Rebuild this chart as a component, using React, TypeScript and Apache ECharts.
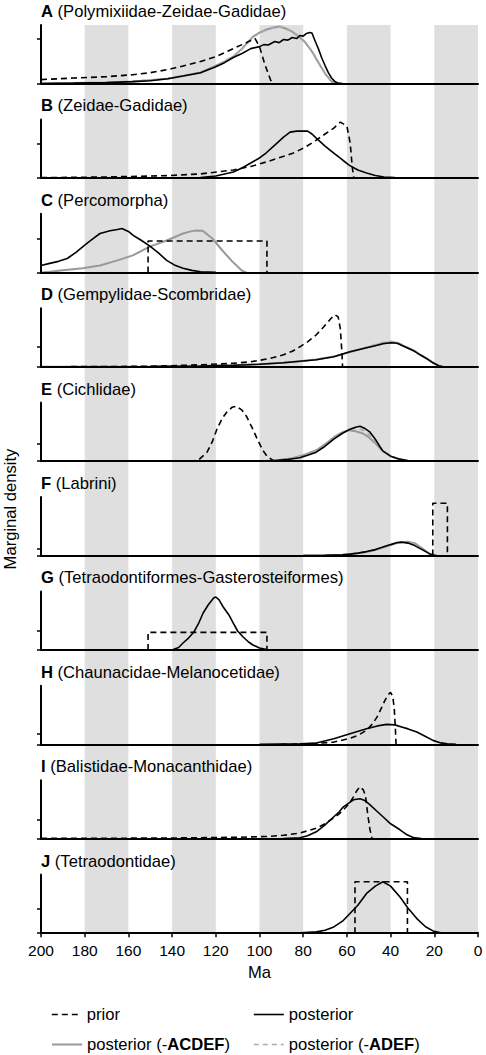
import React, { useEffect, useRef } from "react";
import * as echarts from "echarts";

type P = [number, number];

const FONT = "'Liberation Sans', Arial, Helvetica, sans-serif";

const BANDS: P[] = [[180, 160], [140, 120], [100, 80], [60, 40], [20, 0]];
const X_MIN = 0;
const X_MAX = 200;
const X_INTERVAL = 20;
const Y_TICK = 0.02;

const LETTERS = ["A", "B", "C", "D", "E", "F", "G", "H", "I", "J"];
const CLADES = [
  "Polymixiidae-Zeidae-Gadidae",
  "Zeidae-Gadidae",
  "Percomorpha",
  "Gempylidae-Scombridae",
  "Cichlidae",
  "Labrini",
  "Tetraodontiformes-Gasterosteiformes",
  "Chaunacidae-Melanocetidae",
  "Balistidae-Monacanthidae",
  "Tetraodontidae",
];
const Y_MAX = [0.0263, 0.0345, 0.0345, 0.0586, 0.0689, 0.168, 0.0617, 0.1065, 0.0617, 0.0488];

const SERIES_NAMES = ["prior", "posterior", "posterior (-ACDEF)", "posterior (-ADEF)"];

// Panel A
const A_PRIOR: P[] = [[200,0.0018],[185,0.0025],[170,0.0031],[158,0.004],[150,0.0049],[142,0.0063],[135,0.0079],[127,0.0099],[120,0.0121],[112,0.0157],[108,0.0175],[104,0.0193],[102,0.0202],[100,0.0166],[97.5,0.0085],[95,0.0018],[94,0]];
const A_POST: P[] = [[200,0],[185,0.0002],[170,0.00045],[158,0.0009],[150,0.0013],[142,0.0022],[135,0.0034],[127,0.0049],[120,0.0076],[116,0.0094],[112,0.0117],[108,0.0135],[104,0.0157],[100,0.0166],[98,0.0175],[96,0.0173],[93,0.0189],[91,0.0184],[89,0.0198],[87,0.0195],[85,0.0207],[83,0.0202],[81.5,0.0216],[80,0.0213],[78.5,0.0225],[77,0.0229],[76,0.0227],[74.5,0.019],[73,0.0155],[71.5,0.0115],[70,0.0081],[68.5,0.0049],[67,0.0025],[65.5,0.0009],[64,0.0002],[62,0]];
const A_ACDEF: P[] = [[200,0],[170,0.00045],[158,0.0009],[142,0.0022],[127,0.0049],[120,0.0081],[116,0.0099],[112,0.0121],[108,0.0157],[103,0.0211],[100,0.0229],[97,0.0242],[94,0.0251],[91,0.0256],[88,0.0247],[85,0.0233],[82,0.0211],[79,0.0184],[76,0.0144],[73,0.0094],[70,0.0045],[67,0.0009],[65,0]];
const A_ADEF: P[] = [[200,0],[170,0.0005],[158,0.001],[142,0.0023],[127,0.0051],[120,0.0079],[112,0.0123],[108,0.0155],[103,0.0208],[100,0.0226],[97,0.024],[94,0.025],[91,0.0254],[88,0.0248],[85,0.0235],[82,0.0213],[79,0.0187],[76,0.0147],[73,0.0097],[70,0.0047],[67,0.001],[65,0]];

// Panel B
const B_PRIOR: P[] = [[200,0.0002],[170,0.0006],[142,0.0014],[127,0.0024],[112,0.0047],[104,0.0068],[97,0.0094],[90,0.0123],[84.5,0.0147],[79,0.0182],[74,0.0223],[70,0.0259],[66,0.0294],[63,0.0329],[60,0.0306],[58.5,0.0206],[57.5,0.0059],[56.8,0]];
const B_POST: P[] = [[200,0],[150,0.0001],[127,0.0003],[120,0.0012],[112,0.0035],[108,0.0059],[104,0.0088],[100,0.0118],[97,0.0147],[93,0.0194],[89,0.0241],[86,0.027],[83,0.0276],[80,0.0276],[78,0.0276],[76,0.0259],[74,0.0235],[70,0.0188],[66,0.0147],[62,0.0106],[59,0.0076],[55,0.0047],[51,0.0029],[47,0.0015],[43,0.0006],[38,0.0002],[35,0]];

// Panel C
const C_PRIOR: P[] = [[151,0],[151,0.0185],[96.6,0.0185],[96.6,0]];
const C_POST: P[] = [[200,0.0041],[196,0.0053],[192,0.0065],[188,0.0082],[184,0.0118],[179,0.0171],[176,0.02],[173,0.0229],[168.4,0.0245],[165,0.0253],[163,0.0259],[160,0.0241],[157.8,0.0218],[154,0.0188],[150,0.0153],[146,0.0112],[142.5,0.0071],[139,0.0044],[135,0.0024],[131,0.0012],[127,0.0004],[120,0]];
const C_ACDEF: P[] = [[200,0],[196,0.0004],[190,0.0012],[181,0.0024],[173,0.0041],[165,0.0071],[158,0.01],[150,0.0153],[142.5,0.0188],[135,0.0229],[131,0.0243],[129,0.0247],[126,0.0245],[121.6,0.02],[117,0.0129],[112.5,0.0065],[108,0.001],[106,0]];

// Panel D
const D_PRIOR: P[] = [[200,0],[150,0.0005],[127,0.002],[112,0.0035],[104,0.005],[96,0.008],[89,0.012],[85,0.0155],[81.5,0.02],[78,0.025],[74,0.032],[71,0.039],[69,0.044],[67,0.049],[65.4,0.052],[64,0.05],[63,0.038],[62.3,0.015],[62,0]];
const D_POST: P[] = [[200,0],[150,0.0003],[127,0.0008],[112,0.0015],[100,0.0025],[89,0.004],[81.5,0.0055],[74,0.007],[66,0.01],[58.6,0.015],[51,0.019],[47,0.021],[43.5,0.023],[40,0.024],[37,0.0235],[32.5,0.019],[29,0.0155],[26.5,0.012],[23,0.0075],[20.6,0.004],[18,0.001],[16,0]];
const D_ACDEF: P[] = [[200,0],[150,0.0003],[127,0.0008],[112,0.0016],[100,0.0026],[89,0.0041],[81.5,0.0056],[74,0.0072],[66,0.0102],[58.6,0.0148],[51,0.0192],[47,0.0215],[43.5,0.0235],[40,0.0245],[37,0.024],[32.5,0.0195],[29,0.0158],[26.5,0.0122],[23,0.0077],[20.6,0.0042],[18,0.0012],[16,0]];
const D_ADEF: P[] = [[200,0],[150,0.0003],[127,0.0008],[112,0.0016],[100,0.0026],[89,0.0042],[81.5,0.0057],[74,0.0073],[66,0.0104],[58.6,0.015],[51,0.0196],[47,0.0222],[43.5,0.0245],[40,0.0255],[37,0.0246],[32.5,0.0198],[29,0.016],[26.5,0.0124],[23,0.0078],[20.6,0.0043],[18,0.0012],[16,0]];

// Panel E
const E_PRIOR: P[] = [[132,0],[128,0.0012],[124,0.0106],[121.5,0.0235],[119.5,0.0376],[117,0.0506],[115,0.0576],[112.5,0.0635],[110.5,0.0647],[108,0.06],[106,0.0529],[103.5,0.04],[101,0.0259],[98.5,0.0129],[96.6,0.0059],[94,0.0012],[92,0]];
const E_POST: P[] = [[100,0],[94,0.0006],[88,0.0018],[81.5,0.0041],[78,0.0071],[74,0.0106],[70,0.0176],[66,0.0259],[62,0.0329],[58.6,0.0376],[56,0.04],[54,0.0412],[52,0.0388],[49.4,0.0341],[47,0.0259],[45,0.0176],[43.5,0.0118],[40,0.0059],[35.7,0.0024],[32,0.0006],[28,0]];
const E_ACDEF: P[] = [[100,0],[92,0.0012],[85,0.0035],[80,0.0071],[74,0.0129],[70,0.02],[66,0.0282],[62,0.0341],[59,0.0365],[56,0.0353],[53,0.0329],[50,0.0282],[47,0.0212],[44,0.0129],[40,0.0059],[36,0.0018],[32,0.0004],[28,0]];
const E_ADEF: P[] = [[100,0],[92,0.001],[85,0.003],[80,0.0065],[74,0.0118],[70,0.019],[66,0.027],[62,0.0335],[59,0.0372],[56,0.0385],[53,0.037],[50,0.0318],[47,0.0235],[44,0.014],[40,0.0062],[36,0.002],[32,0.0005],[28,0]];

// Panel F
const F_PRIOR: P[] = [[20.7,0],[20.7,0.15],[14,0.15],[14,0]];
const F_POST: P[] = [[80,0],[70,0.0009],[62,0.0023],[58.6,0.0043],[55,0.0072],[51,0.0115],[47,0.0172],[43.5,0.0244],[40,0.0315],[37,0.0373],[35,0.0387],[32,0.0358],[29,0.0287],[26,0.0186],[23.5,0.01],[22,0.0043],[20.5,0.0014],[19,0]];
const F_ACDEF: P[] = [[80,0],[70,0.0009],[62,0.0023],[58.6,0.004],[55,0.0066],[51,0.0106],[47,0.016],[43.5,0.0229],[40,0.03],[37,0.0358],[35,0.0385],[32,0.04],[29,0.0358],[26,0.023],[23.5,0.0115],[21.5,0.0029],[19.5,0]];
const F_ADEF: P[] = [[80,0],[70,0.0009],[62,0.0024],[58.6,0.0042],[55,0.007],[51,0.011],[47,0.0166],[43.5,0.0237],[40,0.0308],[37,0.0366],[35,0.039],[32,0.039],[29,0.0335],[26,0.021],[23.5,0.0108],[21.5,0.003],[19.5,0]];

// Panel G
const G_PRIOR: P[] = [[151,0],[151,0.0186],[96.6,0.0186],[96.6,0]];
const G_POST: P[] = [[142,0],[139.5,0.0005],[137,0.0026],[135,0.0074],[132.5,0.0126],[130,0.019],[128,0.0274],[125.8,0.039],[123.5,0.0474],[121,0.0548],[120,0.0558],[118.5,0.0527],[116.6,0.0453],[114,0.0369],[112,0.0284],[110,0.02],[107.5,0.0137],[105,0.0084],[103,0.0053],[100,0.0021],[96.6,0.0005],[94,0]];

// Panel H
const H_PRIOR: P[] = [[90,0],[81.5,0.0005],[74,0.0018],[66,0.0042],[58.6,0.0109],[55,0.0164],[51,0.0255],[48.5,0.0364],[46.3,0.0491],[44.5,0.0636],[42.6,0.08],[41,0.0909],[40,0.0945],[39,0.0873],[38.3,0.0636],[37.8,0.0273],[37.5,0]];
const H_POST: P[] = [[100,0],[81.5,0.0009],[74,0.0024],[66,0.0104],[58.6,0.0195],[51,0.0285],[46,0.0336],[41.8,0.0364],[38,0.0355],[35.7,0.0327],[32,0.0282],[28,0.0224],[24,0.0145],[20.6,0.0073],[17,0.0027],[14,0.0009],[10,0]];

// Panel I
const I_PRIOR: P[] = [[200,0.0005],[150,0.0007],[127,0.0011],[110,0.0016],[97,0.0024],[89,0.0037],[81.5,0.006],[78,0.0084],[74,0.0113],[70,0.0158],[66,0.0221],[63.5,0.0263],[61.6,0.0305],[59,0.0369],[57,0.0442],[55.5,0.0505],[54,0.0548],[52.5,0.0516],[51.5,0.0453],[50.5,0.0263],[49.5,0.0105],[48.5,0]];
const I_POST: P[] = [[100,0],[89,0.0003],[81.5,0.0011],[78,0.0032],[74,0.0074],[70,0.0147],[66,0.0232],[63.5,0.0284],[61.6,0.0337],[59,0.0379],[57,0.0411],[54,0.0421],[51.5,0.04],[49.4,0.0358],[46.5,0.0295],[43.5,0.0232],[40,0.0158],[35.7,0.0095],[32.5,0.0042],[29.6,0.0014],[26,0.0003],[22,0]];

// Panel J
const J_PRIOR: P[] = [[56.3,0],[56.3,0.0428],[32.3,0.0428],[32.3,0]];
const J_POST: P[] = [[90,0],[81.5,0.0003],[74,0.0011],[70,0.0025],[66,0.0052],[62,0.01],[58.6,0.0164],[55,0.0233],[51,0.0331],[47,0.0392],[43.5,0.0428],[40,0.0392],[35.7,0.0302],[32,0.0208],[28,0.0122],[24,0.0054],[20.6,0.0019],[17,0.0004],[14,0]];

const PANELS: { prior: P[]; post: P[]; acdef?: P[]; adef?: P[] }[] = [
  { prior: A_PRIOR, post: A_POST, acdef: A_ACDEF, adef: A_ADEF },
  { prior: B_PRIOR, post: B_POST },
  { prior: C_PRIOR, post: C_POST, acdef: C_ACDEF },
  { prior: D_PRIOR, post: D_POST, acdef: D_ACDEF, adef: D_ADEF },
  { prior: E_PRIOR, post: E_POST, acdef: E_ACDEF, adef: E_ADEF },
  { prior: F_PRIOR, post: F_POST, acdef: F_ACDEF, adef: F_ADEF },
  { prior: G_PRIOR, post: G_POST },
  { prior: H_PRIOR, post: H_POST },
  { prior: I_PRIOR, post: I_POST },
  { prior: J_PRIOR, post: J_POST },
];

// layout
const LEFT = 41;
const WIDTH = 437;
const TOP0 = 25;
const STEP = 94.4;
const PH = 58.6;
const TITLE_FS = 16.6;
const TICK_FS = 15.5;

const STYLES: Record<string, any> = {
  prior: { color: "#000000", width: 1.6, type: [6, 4] },
  posterior: { color: "#000000", width: 1.6, type: "solid" },
  "posterior (-ACDEF)": { color: "#999999", width: 2, type: "solid" },
  "posterior (-ADEF)": { color: "#aaaaaa", width: 1.6, type: [5, 4] },
};

function lineSeries(name: string, data: P[], k: number, z: number) {
  const st = STYLES[name];
  return {
    type: "line",
    name,
    data,
    xAxisIndex: k,
    yAxisIndex: k,
    symbol: "none",
    showSymbol: false,
    silent: true,
    z,
    itemStyle: { color: st.color },
    lineStyle: { color: st.color, width: st.width, type: st.type },
  };
}

export default function App() {
  const ref = useRef<HTMLDivElement>(null);

  useEffect(() => {
    if (!ref.current) return;
    const chart = echarts.init(ref.current, null, { renderer: "svg" });
    const n = PANELS.length;
    const grids: any[] = [];
    const xAxes: any[] = [];
    const yAxes: any[] = [];
    const series: any[] = [];

    PANELS.forEach((p, k) => {
      const last = k === n - 1;
      grids.push({ left: LEFT, width: WIDTH, top: TOP0 + STEP * k, height: PH, containLabel: false });
      xAxes.push({
        type: "value",
        gridIndex: k,
        position: "bottom",
        z: 10,
        min: X_MIN,
        max: X_MAX,
        interval: X_INTERVAL,
        inverse: true,
        axisLine: { show: true, onZero: false, lineStyle: { color: "#000", width: 2 } },
        axisTick: { show: last, length: 4, lineStyle: { color: "#000", width: 1.5 } },
        axisLabel: { show: last, margin: 9, fontSize: TICK_FS, color: "#000", fontFamily: FONT },
        splitLine: { show: false },
        name: last ? "Ma" : "",
        nameLocation: "middle",
        nameGap: 31,
        nameTextStyle: { fontSize: TITLE_FS, color: "#000", fontFamily: FONT },
      });
      yAxes.push({
        type: "value",
        gridIndex: k,
        position: "left",
        z: 10,
        min: 0,
        max: Y_MAX[k],
        axisLine: { show: true, onZero: false, lineStyle: { color: "#000", width: 2 } },
        axisTick: {
          show: true,
          length: 4,
          customValues: [0, Y_TICK],
          lineStyle: { color: "#000", width: 1.5 },
        },
        axisLabel: { show: false },
        splitLine: { show: false },
      });
      if (p.acdef) series.push(lineSeries("posterior (-ACDEF)", p.acdef, k, 3));
      if (p.adef) series.push(lineSeries("posterior (-ADEF)", p.adef, k, 4));
      series.push(lineSeries("posterior", p.post, k, 5));
      series.push(lineSeries("prior", p.prior, k, 6));
    });

    // background bands grid
    const bg = n;
    grids.push({ left: LEFT, width: WIDTH, top: TOP0, height: STEP * (n - 1) + PH });
    xAxes.push({ type: "value", gridIndex: bg, min: X_MIN, max: X_MAX, inverse: true, show: false });
    yAxes.push({ type: "value", gridIndex: bg, min: 0, max: 1, show: false });
    series.push({
      type: "line",
      name: "bands",
      xAxisIndex: bg,
      yAxisIndex: bg,
      data: [],
      symbol: "none",
      silent: true,
      z: -5,
      markArea: {
        silent: true,
        z: -5,
        itemStyle: { color: "#dfdfdf" },
        data: BANDS.map(([a, b]) => [{ xAxis: a }, { xAxis: b }]),
      },
    });

    const titles = PANELS.map((_, k) => ({
      text: `{b|${LETTERS[k]}} (${CLADES[k]})`,
      left: LEFT,
      top: 12 + STEP * k - 9,
      padding: 0,
      textStyle: {
        fontSize: TITLE_FS,
        fontWeight: "normal",
        color: "#000",
        fontFamily: FONT,
        rich: { b: { fontSize: TITLE_FS, fontWeight: "bold", color: "#000", fontFamily: FONT } },
      },
    }));

    const legendBase = {
      orient: "horizontal",
      itemWidth: 30,
      itemHeight: 14,
      itemGap: 0,
      padding: 0,
      selectedMode: false,
      itemStyle: { color: "rgba(0,0,0,0)", borderColor: "rgba(0,0,0,0)", borderWidth: 0 },
      textStyle: {
        fontSize: TITLE_FS,
        color: "#000",
        fontFamily: FONT,
        rich: { b: { fontSize: TITLE_FS, fontWeight: "bold", color: "#000", fontFamily: FONT } },
      },
      formatter: (name: string) => name.replace(/\(-([A-Z]+)\)/, "(-{b|$1})"),
    };
    const legendItem = (name: string, left: number, top: number) => {
      const st = STYLES[name];
      return {
        ...legendBase,
        data: [name],
        left,
        top,
        lineStyle: { color: st.color, width: st.width, type: st.type },
      };
    };
    const legends = [
      legendItem(SERIES_NAMES[0], 51, 1006),
      legendItem(SERIES_NAMES[1], 253, 1006),
      legendItem(SERIES_NAMES[2], 51, 1036),
      legendItem(SERIES_NAMES[3], 253, 1036),
    ];

    chart.setOption({
      animation: false,
      backgroundColor: "#ffffff",
      title: titles,
      legend: legends,
      grid: grids,
      xAxis: xAxes,
      yAxis: yAxes,
      series,
      graphic: [
        {
          type: "text",
          x: 10,
          y: 509,
          rotation: Math.PI / 2,
          style: {
            text: "Marginal density",
            font: `${TITLE_FS}px ${FONT}`,
            fill: "#000",
            align: "center",
            verticalAlign: "middle",
          },
        },
      ],
    });

    return () => chart.dispose();
  }, []);

  return (
    <div
      ref={ref}
      style={{ position: "fixed", left: 0, top: 0, width: 486, height: 1055, background: "#fff" }}
    />
  );
}
